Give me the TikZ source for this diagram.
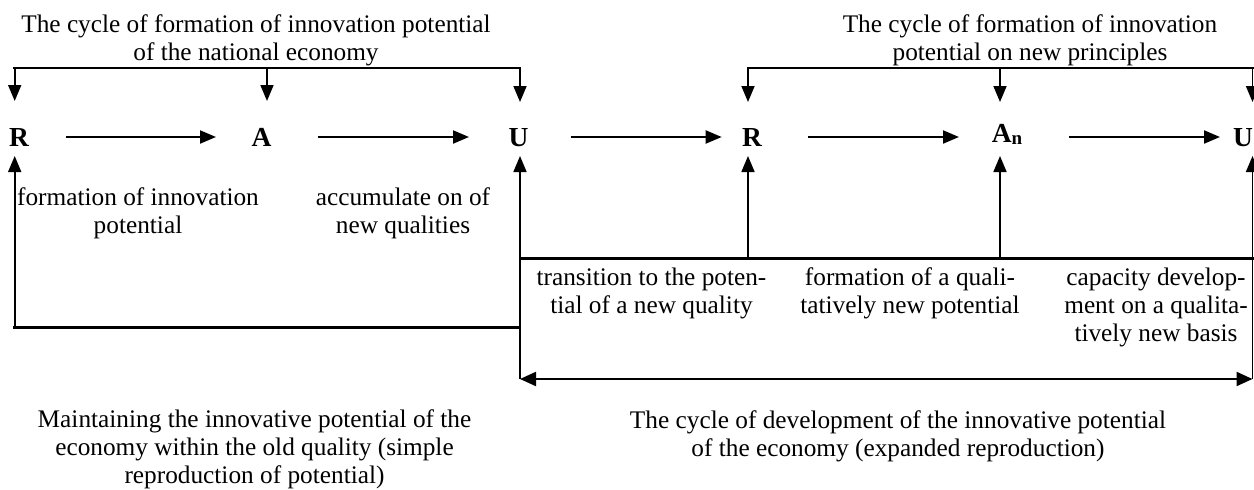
\documentclass[tikz,border=0pt]{standalone}
\usepackage{fontspec}
\setmainfont{Liberation Serif}
\usetikzlibrary{arrows.meta}
\tikzset{
  txt/.style={font=\fontsize{25.3pt}{28.2pt}\selectfont, align=center, inner sep=0pt, anchor=north},
  letter/.style={font=\fontsize{27.5pt}{30pt}\selectfont\bfseries, inner sep=0pt, text height=18pt, text depth=0pt, anchor=base},
  heavy/.style={line width=2.8pt, line cap=rect},
  harr/.style={line width=2pt, -{Triangle[length=16pt,width=13pt]}},
  varr/.style={line width=1.7pt, -{Triangle[length=16pt,width=13pt]}},
  dblarr/.style={line width=2.2pt, {Triangle[length=16pt,width=14pt]}-{Triangle[length=16pt,width=14pt]}}
}
\begin{document}
\begin{tikzpicture}[x=1pt,y=-1pt]
\fill[white] (0,0) rectangle (1254,490);
\useasboundingbox (0,0) rectangle (1254,490);

% letters
\node[letter] (R1) at (19,146) {R};
\node[letter] (A1) at (261.6,146) {A};
\node[letter] (U1) at (518.5,146) {U};
\node[letter] (R2) at (752,146) {R};
\node[letter] (A2) at (1007,146) {\raisebox{4pt}{A}\raisebox{2pt}{\fontsize{19pt}{19pt}\selectfont n}};
\node[letter] (U2) at (1243,146) {U};

% horizontal arrows
\draw[harr, shorten <=47pt, shorten >=45.6pt] (R1.center) -- (A1.center);
\draw[harr, shorten <=56pt, shorten >=49.5pt] (A1.center) -- (U1.center);
\draw[harr, shorten <=52.2pt, shorten >=30.3pt] (U1.center) -- (R2.center);
\draw[harr, shorten <=56pt, shorten >=48pt] (R2.center) -- (A2.center);
\draw[harr, shorten <=62pt, shorten >=23pt] (A2.center) -- (U2.center);

% top brackets
\coordinate (t1a) at (14.7,68);
\coordinate (t1b) at (267,68);
\coordinate (t1c) at (520,68);
\coordinate (t2a) at (748,68);
\coordinate (t2b) at (1000,68);
\coordinate (t2c) at (1252.5,68);
\draw[heavy] (t1a) -- (t1c);
\draw[heavy] (t2a) -- (t2c);
\draw[varr, shorten >=36pt] (t1a) -- (t1a |- R1.center);
\draw[varr, shorten >=36pt] (t1b) -- (t1b |- A1.center);
\draw[varr, shorten >=35pt] (t1c) -- (t1c |- U1.center);
\draw[varr, shorten >=35pt] (t2a) -- (t2a |- R2.center);
\draw[varr, shorten >=35pt] (t2b) -- (t2b |- A2.center);
\draw[varr, shorten >=35pt] (t2c) -- (t2c |- U2.center);

% lower frames
\coordinate (bl) at (14.7,327.3);
\coordinate (br) at (520,327.3);
\coordinate (xt) at (520,258.3);
\coordinate (xr) at (1252.5,258.3);
\coordinate (c1) at (748,258.3);
\coordinate (c2) at (1000,258.3);
\coordinate (d1) at (520,379);
\coordinate (d2) at (1252.5,379);
\draw[heavy] (bl) -- (br);
\draw[heavy] (xt) -- (xr);
\draw[varr, shorten >=19pt] (bl) -- (bl |- R1.center);
\draw[varr, shorten >=19pt] (d1) -- (d1 |- U1.center);
\draw[varr, shorten >=19pt] (c1) -- (c1 |- R2.center);
\draw[varr, shorten >=19pt] (c2) -- (c2 |- A2.center);
\draw[varr, shorten >=19pt] (d2) -- (d2 |- U2.center);
\draw[dblarr] (d1) -- (d2);

% texts
\node[txt] (T1) at (256,14.7) {The cycle of formation of innovation potential\\of the national economy};
\node[txt] (T2) at (1030,14.7) {The cycle of formation of innovation\\potential on new principles};
\node[txt] (F1) at (138,187.7) {formation of innovation\\potential};
\node[txt] (F2) at (403,187.7) {accumulate on of\\new qualities};
\node[txt] (B1) at (651.5,267.7) {transition to the poten-\\tial of a new quality};
\node[txt] (B2) at (910,267.7) {formation of a quali-\\tatively new potential};
\node[txt] (B3) at (1156,267.7) {capacity develop-\\ment on a qualita-\\tively new basis};
\node[txt] (L1) at (254.5,409) {Maintaining the innovative potential of the\\economy within the old quality (simple\\reproduction of potential)};
\node[txt] (L2) at (898,410.5) {The cycle of development of the innovative potential\\of the economy (expanded reproduction)};
\end{tikzpicture}
\end{document}
